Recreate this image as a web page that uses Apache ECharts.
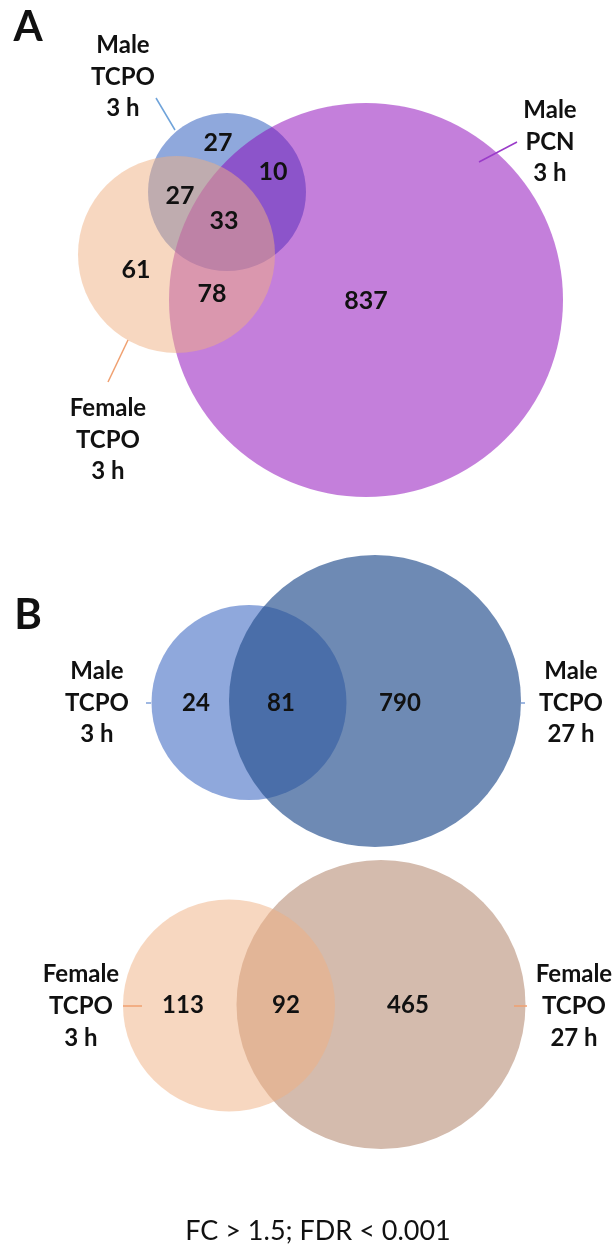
<!DOCTYPE html>
<html>
<head>
<meta charset="utf-8">
<script src="https://cdn.jsdelivr.net/npm/echarts/dist/echarts.min.js"></script>
<style>
html,body{margin:0;padding:0;background:#fff;}
#chart{width:615px;height:1249px;}
</style>
</head>
<body>
<div id="chart"></div>
<script>
// ---------- DATA ----------
const panelLetters = ['A', 'B'];
// Panel A: three-set Venn
const panelASets = ['Male\nTCPO\n3 h', 'Male\nPCN\n3 h', 'Female\nTCPO\n3 h'];
const panelARegions = ['Male TCPO only', 'Male TCPO ∩ Male PCN', 'Male TCPO ∩ Female TCPO', 'All three', 'Female TCPO only', 'Female TCPO ∩ Male PCN', 'Male PCN only'];
const panelACounts = [27, 10, 27, 33, 61, 78, 837];
// Panel B (top): males
const panelBMaleSets = ['Male\nTCPO\n3 h', 'Male\nTCPO\n27 h'];
const panelBMaleCounts = [24, 81, 790];
// Panel B (bottom): females
const panelBFemaleSets = ['Female\nTCPO\n3 h', 'Female\nTCPO\n27 h'];
const panelBFemaleCounts = [113, 92, 465];
const footnote = 'FC > 1.5; FDR < 0.001';

// ---------- LAYOUT (geometry & styles, in page units) ----------
const circleLayout = [
  // panel A (draw order: blue, purple, peach)
  {cx: 227, cy: 192, r: 79, fill: 'rgba(31,81,185,0.5)'},
  {cx: 366, cy: 300, r: 197, fill: 'rgba(137,0,183,0.5)'},
  {cx: 176.5, cy: 254.5, r: 98.5, fill: 'rgba(239,175,129,0.5)'},
  // panel B males
  {cx: 249, cy: 702.5, r: 97.5, fill: 'rgba(31,81,185,0.5)'},
  {cx: 375, cy: 701, r: 146, fill: 'rgba(42,82,145,0.68)'},
  // panel B females
  {cx: 381, cy: 1004.5, r: 144.5, fill: '#D4BBAD'},
  {cx: 229, cy: 1005.5, r: 106, fill: 'rgba(239,175,129,0.5)'}
];
const panelACountPos = [[218,143],[273,172],[180,196],[224,221],[136,270],[212,294],[366,301]];
const panelBMaleCountPos = [[196,703],[281,703],[400,703]];
const panelBFemaleCountPos = [[183,1005],[286,1005],[408,1005]];
const panelASetPos = [[123,77],[550,142],[108,440]];
const panelBMaleSetPos = [[97,703],[571,703]];
const panelBFemaleSetPos = [[81,1006],[574,1006]];
const letterPos = [[28,27],[28,615]];
const footPos = [318,1231];
const leaderLines = [
  {p: [[156,98],[175,130]], c: '#6FA3DA'},
  {p: [[479,162],[517,142]], c: '#9A3BC9'},
  {p: [[128,340],[108,382]], c: '#F0A070'},
  {p: [[146,703],[151,703]], c: '#7FA0D8'},
  {p: [[521,703],[525,703]], c: '#7FA0D8'},
  {p: [[123,1006],[142,1006]], c: '#F0A070'},
  {p: [[514,1006],[527,1006]], c: '#F0A070'}
];

const FONT = 'Lato, "Open Sans", sans-serif';

// ---------- build text items ----------
const textItems = [];
panelACounts.forEach((v, i) => textItems.push({value: [panelACountPos[i][0], panelACountPos[i][1]], text: String(v), size: 25, weight: 'bold', lh: 30}));
panelBMaleCounts.forEach((v, i) => textItems.push({value: [panelBMaleCountPos[i][0], panelBMaleCountPos[i][1]], text: String(v), size: 24, weight: 'bold', lh: 30}));
panelBFemaleCounts.forEach((v, i) => textItems.push({value: [panelBFemaleCountPos[i][0], panelBFemaleCountPos[i][1]], text: String(v), size: 24, weight: 'bold', lh: 30}));
panelASets.forEach((s, i) => textItems.push({value: panelASetPos[i], text: s, size: 24, weight: 'bold', lh: 31.5}));
panelBMaleSets.forEach((s, i) => textItems.push({value: panelBMaleSetPos[i], text: s, size: 24, weight: 'bold', lh: 31.5}));
panelBFemaleSets.forEach((s, i) => textItems.push({value: panelBFemaleSetPos[i], text: s, size: 24, weight: 'bold', lh: 32}));
panelLetters.forEach((s, i) => textItems.push({value: letterPos[i], text: s, size: 42, weight: 'bold', lh: 44}));
textItems.push({value: footPos, text: footnote, size: 27, weight: 'normal', lh: 30});

const chart = echarts.init(document.getElementById('chart'), null, {renderer: 'canvas'});
chart.setOption({
  backgroundColor: '#ffffff',
  animation: false,
  grid: {left: 0, right: 0, top: 0, bottom: 0},
  xAxis: {type: 'value', min: 0, max: 615, show: false},
  yAxis: {type: 'value', min: 0, max: 1249, inverse: true, show: false},
  series: [
    {
      type: 'custom', name: 'sets', clip: false, silent: true,
      data: circleLayout.map(c => [c.cx, c.cy, c.r]),
      renderItem: function (params, api) {
        const c = api.coord([api.value(0), api.value(1)]);
        const r = api.size([api.value(2), 0])[0];
        return {type: 'circle', shape: {cx: c[0], cy: c[1], r: r}, style: {fill: circleLayout[params.dataIndex].fill}};
      }
    },
    {
      type: 'custom', name: 'leaders', clip: false, silent: true,
      data: leaderLines.map(l => [l.p[0][0], l.p[0][1], l.p[1][0], l.p[1][1]]),
      renderItem: function (params, api) {
        const a = api.coord([api.value(0), api.value(1)]);
        const b = api.coord([api.value(2), api.value(3)]);
        return {type: 'line', shape: {x1: a[0], y1: a[1], x2: b[0], y2: b[1]}, style: {stroke: leaderLines[params.dataIndex].c, lineWidth: 1.5}};
      }
    },
    {
      type: 'custom', name: 'texts', clip: false, silent: true,
      data: textItems.map(t => t.value),
      renderItem: function (params, api) {
        const t = textItems[params.dataIndex];
        const p = api.coord([api.value(0), api.value(1)]);
        return {type: 'text', x: p[0], y: p[1], style: {
          text: t.text, fill: '#111111', align: 'center', verticalAlign: 'middle',
          fontFamily: FONT, fontSize: t.size, fontWeight: t.weight, lineHeight: t.lh
        }};
      }
    }
  ]
});
</script>
</body>
</html>
